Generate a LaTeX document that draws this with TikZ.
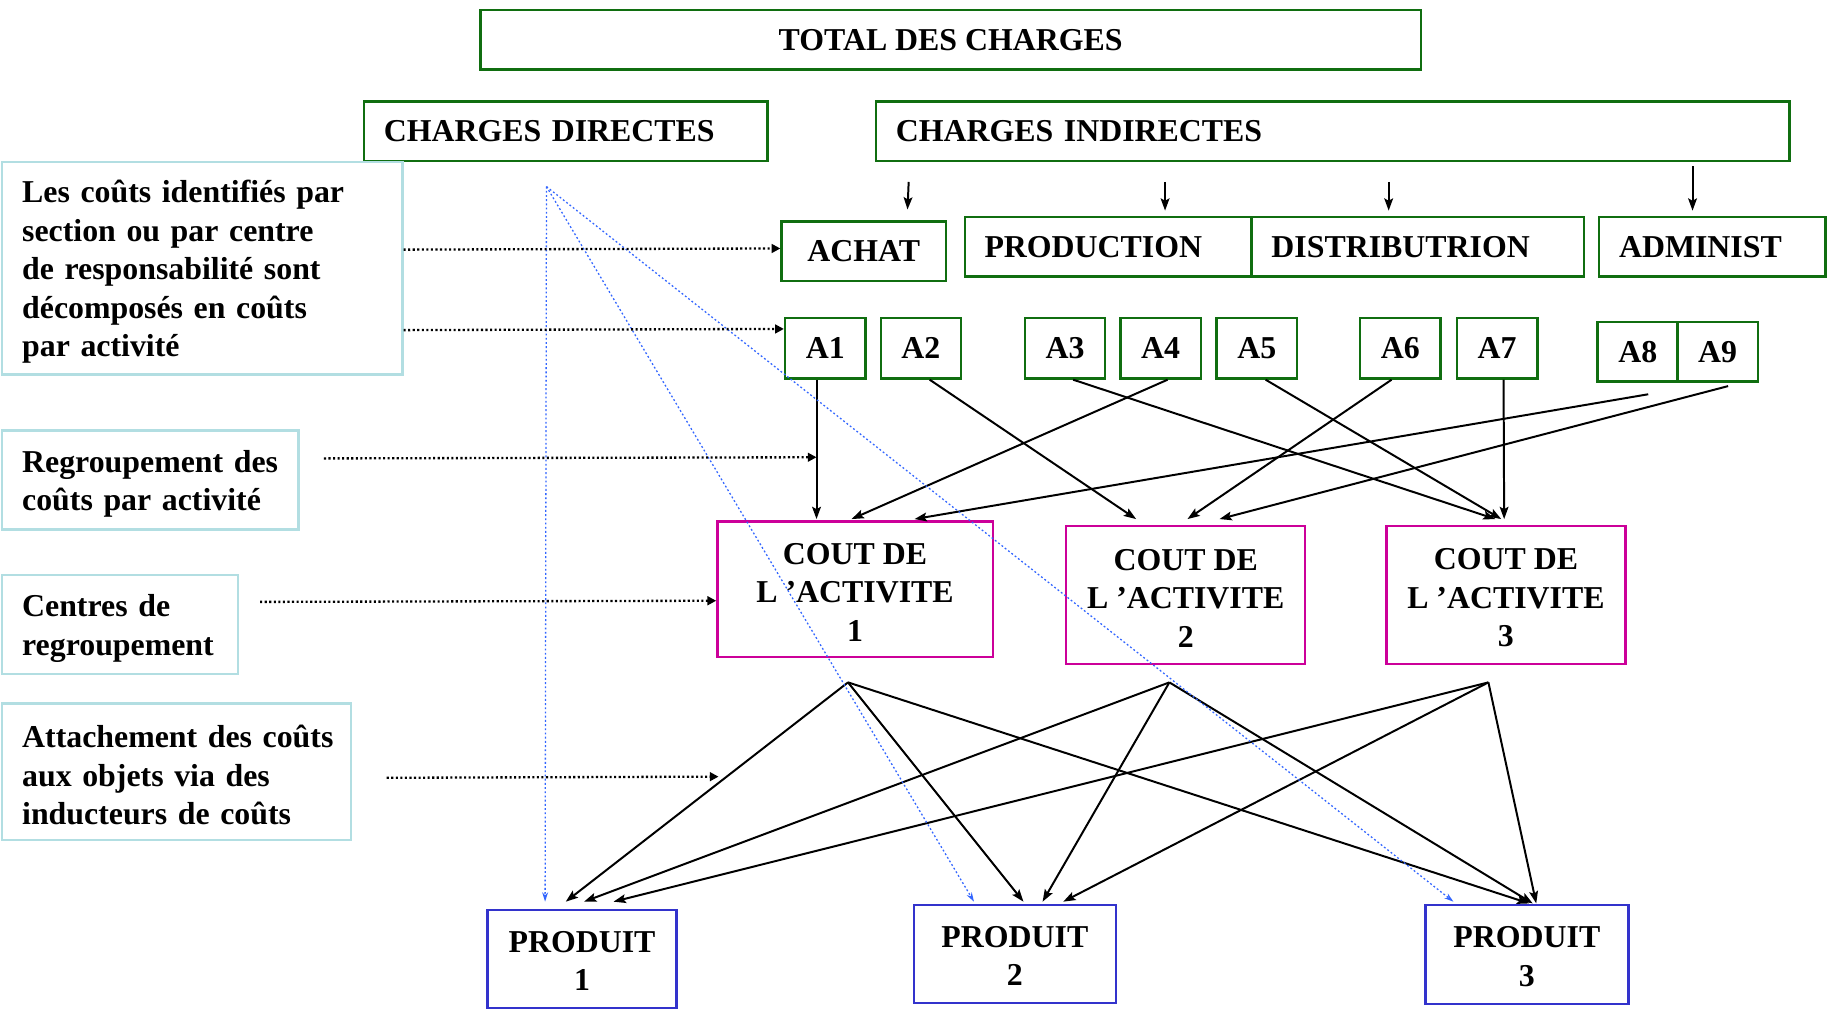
\documentclass[tikz,border=0pt]{standalone}
\usepackage{fontspec}
\setmainfont{Liberation Serif}
\usetikzlibrary{arrows.meta}

\definecolor{boxgreen}{RGB}{16,110,16}
\definecolor{boxmagenta}{RGB}{204,0,153}
\definecolor{boxblue}{RGB}{51,51,204}
\definecolor{boxcyan}{RGB}{178,222,226}
\definecolor{linkblue}{RGB}{51,102,255}

% raises the height of a first line so that a block of text sits a little lower
\newcommand{\lowerby}[1]{\rule{0pt}{#1}}

\begin{document}
\begin{tikzpicture}[x=1pt,y=-1pt,
  txt/.style={font=\fontsize{27.3}{33}\selectfont\bfseries},
  gbox/.style={txt, draw=boxgreen, line width=2pt, inner sep=0pt},
  gleft/.style={gbox, anchor=north west, align=left, inner xsep=17pt},
  abox/.style={gbox, minimum width=69, minimum height=52},
  cbox/.style={txt, draw=boxmagenta, line width=2pt, inner sep=0pt, align=center},
  pbox/.style={txt, draw=boxblue, line width=2pt, inner sep=0pt, align=center},
  lbox/.style={txt, draw=boxcyan, line width=2pt, anchor=north west, align=left,
    inner xsep=17pt, inner ysep=0pt, execute at begin node={\lowerby{25.5pt}}},
  conn/.style={line width=1.7pt, -{Stealth[length=10.5pt,width=7.5pt,inset=2pt]}},
  guide/.style={line width=2pt, dash pattern=on 1.8pt off 2.1pt, -{Triangle[length=7.5pt,width=7.5pt]}},
  direct/.style={linkblue, line width=1.1pt, dash pattern=on 1.6pt off 2pt, -{Stealth[length=8pt,width=5pt]}}
]
\useasboundingbox (0,0) rectangle (1568,870);

% top level
\node[gbox, minimum width=806, minimum height=51] (total) at (815,34) {TOTAL DES CHARGES};
\node[gleft, text width=312, minimum height=51] (dir) at (311,86) {CHARGES DIRECTES};
\node[gleft, text width=749, minimum height=51] (ind) at (750,86) {CHARGES INDIRECTES};

% sections
\node[gbox, minimum width=141, minimum height=51] (achat) at (740.5,215.5) {ACHAT};
\node[gleft, text width=212, minimum height=51] (prod) at (826,185) {PRODUCTION};
\node[gleft, text width=251, minimum height=51] (dist) at (1072,185) {DISTRIBUTRION};
\node[gleft, text width=160, minimum height=51] (adm) at (1370,185) {ADMINIST};

% activities
\node[abox] (A1) at (707.5,298.5) {A1};
\node[abox] (A2) at (789.5,298.5) {A2};
\node[abox] (A3) at (913,298.5) {A3};
\node[abox] (A4) at (995,298.5) {A4};
\node[abox] (A5) at (1077.5,298.5) {A5};
\node[abox] (A6) at (1200.5,298.5) {A6};
\node[abox] (A7) at (1283.5,298.5) {A7};
\node[abox, minimum height=51] (A8) at (1404,301.5) {A8};
\node[abox, minimum height=51] (A9) at (1472.5,301.5) {A9};

% activity cost pools
\node[cbox, minimum width=236, minimum height=116] (C1) at (733,505) {\lowerby{23.5pt}COUT DE\\L ’ACTIVITE\\1};
\node[cbox, minimum width=205, minimum height=118] (C2) at (1016.5,510) {\lowerby{23.5pt}COUT DE\\L ’ACTIVITE\\2};
\node[cbox, minimum width=205, minimum height=118] (C3) at (1291,510) {\lowerby{23.5pt}COUT DE\\L ’ACTIVITE\\3};

% products
\node[pbox, minimum width=162, minimum height=84] (P1) at (499,822) {\lowerby{21.5pt}PRODUIT\\1};
\node[pbox, minimum width=173, minimum height=84] (P2) at (870,818) {\lowerby{21.5pt}PRODUIT\\2};
\node[pbox, minimum width=174, minimum height=85] (P3) at (1309,818.5) {\lowerby{21.5pt}PRODUIT\\3};

% explanations on the left
\node[lbox, text width=309, minimum height=182] (L1) at (1,138)
  {\mbox{Les coûts identifiés par}\\\mbox{section ou par centre}\\\mbox{de responsabilité sont}\\\mbox{décomposés en coûts}\\\mbox{par activité}};
\node[lbox, text width=220, minimum height=85] (L2) at (1,368)
  {\mbox{Regroupement des}\\\mbox{coûts par activité}};
\node[lbox, text width=168, minimum height=85] (L3) at (1,492)
  {\mbox{Centres de}\\\mbox{regroupement}};
\node[lbox, text width=265, minimum height=117] (L4) at (1,602)
  {\mbox{Attachement des coûts}\\\mbox{aux objets via des}\\\mbox{inducteurs de coûts}};

% free points
\coordinate (src) at ([xshift=-16.5,yshift=-21]dir.south);
\coordinate (k1) at ([xshift=-6,yshift=-21]C1.south);
\coordinate (k2) at ([xshift=-14,yshift=-15]C2.south);
\coordinate (k3) at ([xshift=-15,yshift=-15]C3.south);
\coordinate (a8) at ([xshift=9,yshift=-10]A8.south);
\coordinate (g1) at ([xshift=-7.5,yshift=-93.5]A1.center);
\coordinate (g2) at ([xshift=2,yshift=-160.8]C1.west);

% indirect charges to sections
\draw[conn] ([xshift=-363.5,yshift=-17]ind.south) -- ([xshift=37.5,yshift=9.4]achat.north);
\draw[conn] ([xshift=-143.7,yshift=-17]ind.south) -- ([xshift=48.8,yshift=4.4]prod.north);
\draw[conn] ([xshift=48,yshift=-17]ind.south) -- ([xshift=-25,yshift=4.4]dist.north);
\draw[conn] ([xshift=308.5,yshift=-3.6]ind.south) -- ([xshift=-17,yshift=4.4]adm.north);

% activities to cost pools
\draw[conn] ([xshift=-7.5]A1.south) -- ([xshift=-33,yshift=1]C1.north);
\draw[conn] ([xshift=7.5]A2.south) -- ([xshift=-42.5,yshift=5]C2.north);
\draw[conn] ([xshift=7]A3.south) -- ([xshift=-9,yshift=5]C3.north);
\draw[conn] ([xshift=6]A4.south) -- ([xshift=-3,yshift=1]C1.north);
\draw[conn] ([xshift=7.5]A5.south) -- ([xshift=-4,yshift=5]C3.north);
\draw[conn] ([xshift=-7.5]A6.south) -- ([xshift=1.5,yshift=5]C2.north);
\draw[conn] ([xshift=5.5]A7.south) -- ([xshift=-1.5,yshift=5]C3.north);
\draw[conn] (a8) -- ([xshift=51,yshift=1]C1.north);
\draw[conn] ([xshift=9,yshift=-3]A9.south) -- ([xshift=29,yshift=5]C2.north);

% cost pools to products
\draw[conn] (k1) -- ([xshift=-14,yshift=6]P1.north);
\draw[conn] (k2) -- ([xshift=1.7,yshift=6]P1.north);
\draw[conn] (k3) -- ([xshift=27,yshift=6]P1.north);
\draw[conn] (k1) -- ([xshift=7.4,yshift=2]P2.north);
\draw[conn] (k2) -- ([xshift=23.8,yshift=2]P2.north);
\draw[conn] (k3) -- ([xshift=41.5,yshift=2]P2.north);
\draw[conn] (k1) -- ([xshift=2,yshift=0.5]P3.north);
\draw[conn] (k2) -- ([xshift=5,yshift=0.5]P3.north);
\draw[conn] (k3) -- ([xshift=8,yshift=0.5]P3.north);

% direct charges to products
\draw[direct] (src) -- ([xshift=-31.7,yshift=6]P1.north);
\draw[direct] (src) -- ([xshift=-35,yshift=2]P2.north);
\draw[direct] (src) -- ([xshift=-63,yshift=2]P3.north);

% explanation pointers
\draw[guide] ([yshift=16]L1.east) -- ([yshift=2.5]achat.west);
\draw[guide] ([yshift=-53]L1.east) -- ([yshift=16.5]A1.west);
\draw[guide] ([xshift=20.7,yshift=18.5]L2.east) -- (g1);
\draw[guide] ([xshift=18,yshift=19.5]L3.east) -- ([yshift=-10]C1.west);
\draw[guide] ([xshift=29.5,yshift=-5.3]L4.east) -- (g2);
\end{tikzpicture}
\end{document}
